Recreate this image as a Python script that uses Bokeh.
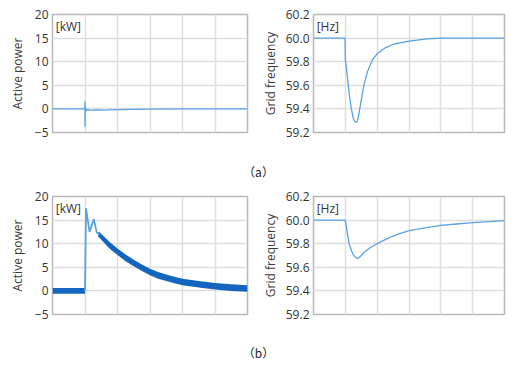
from bokeh.plotting import figure
from bokeh.layouts import column, row
from bokeh.models import FixedTicker, Label, Range1d
from bokeh.embed import file_html
from bokeh.resources import INLINE

# ---------------- data ----------------
# (a) active power [kW]
t_pa = [0.0, 0.99, 1.0, 1.0, 1.01, 1.04, 1.08, 1.15, 1.3, 1.6, 2.0, 2.5, 3.0, 4.0, 6.0]
p_a = [0.0, 0.0, 1.6, -3.8, 0.3, -0.4, -0.1, -0.3, -0.2, -0.25, -0.15, -0.1, -0.05, 0.0, 0.0]

# (a) grid frequency [Hz]
t_fa = [0.0, 0.99, 1.0, 1.04, 1.08, 1.13, 1.19, 1.24, 1.28, 1.31, 1.34, 1.37, 1.40, 1.44, 1.49,
        1.55, 1.60, 1.70, 1.86, 2.01, 2.27, 2.53, 3.01, 3.56, 4.02, 6.0]
f_a = [60.0, 60.0, 59.82, 59.73, 59.63, 59.51, 59.40, 59.33, 59.30, 59.287, 59.285, 59.295, 59.32,
       59.38, 59.46, 59.55, 59.62, 59.72, 59.82, 59.87, 59.92, 59.95, 59.975, 59.993, 60.0, 60.0]

# (b) active power [kW] - transient (thin trace)
t_pb = [0.99, 1.0, 1.03, 1.14, 1.27, 1.36, 1.45]
p_b = [0.0, 0.0, 17.5, 12.5, 15.2, 12.4, 11.8]
# (b) active power - dense ripple band (lower / upper envelope)
t_band_pre = [0.0, 1.0]
lo_pre = [-0.6, -0.6]
hi_pre = [0.6, 0.6]
t_band = [1.40, 1.45, 1.75, 2.0, 2.25, 2.5, 2.75, 3.0, 3.25, 3.5, 3.75, 4.0, 4.5, 5.0, 5.5, 6.0]
mid_band = [12.0, 11.8, 9.7, 8.3, 7.0, 5.9, 4.9, 4.0, 3.3, 2.8, 2.3, 1.9, 1.4, 1.0, 0.7, 0.5]
half_band = [0.4, 0.6, 0.7, 0.7, 0.7, 0.7, 0.7, 0.7, 0.7, 0.7, 0.7, 0.7, 0.7, 0.7, 0.7, 0.7]

# (b) grid frequency [Hz]
t_fb = [0.0, 0.98, 1.01, 1.04, 1.08, 1.12, 1.18, 1.24, 1.30, 1.35, 1.39, 1.44, 1.50, 1.60, 1.80,
        2.0, 2.25, 2.5, 2.75, 3.0, 3.5, 4.0, 4.5, 5.0, 5.5, 6.0]
f_b = [60.0, 60.0, 59.98, 59.93, 59.86, 59.80, 59.75, 59.71, 59.69, 59.678, 59.675, 59.685, 59.70,
       59.73, 59.77, 59.80, 59.835, 59.865, 59.89, 59.91, 59.935, 59.955, 59.967, 59.978, 59.987, 59.995]

x_ticks = [0, 1, 2, 3, 4, 5, 6]
p_ticks = [-5, 0, 5, 10, 15, 20]
f_ticks = [59.2, 59.4, 59.6, 59.8, 60.0, 60.2]
f_labels = {59.2: "59.2", 59.4: "59.4", 59.6: "59.6", 59.8: "59.8", 60.0: "60.0", 60.2: "60.2"}

LINE = "#5aa2e2"
BAND = "#1465bd"
FONT = "Open Sans"


def panel(width, left, right, top, bottom, yr, yticks, ylabel, unit, lab_standoff, ylabels=None):
    p = figure(width=width, height=150, output_backend="svg", toolbar_location=None,
               x_range=Range1d(0, 6), y_range=Range1d(*yr),
               min_border_left=left, min_border_right=right,
               min_border_top=top, min_border_bottom=bottom)
    p.xaxis.visible = False
    p.xaxis.ticker = FixedTicker(ticks=x_ticks)
    p.yaxis.ticker = FixedTicker(ticks=yticks)
    if ylabels:
        p.yaxis.major_label_overrides = ylabels
    p.yaxis.axis_label = ylabel
    p.yaxis.axis_label_text_font = FONT
    p.yaxis.axis_label_text_font_style = "normal"
    p.yaxis.axis_label_text_font_size = "12px"
    p.yaxis.axis_label_text_color = "#3a3a3a"
    p.yaxis.axis_label_standoff = lab_standoff
    p.yaxis.major_label_text_font = FONT
    p.yaxis.major_label_text_font_size = "12px"
    p.yaxis.major_label_text_color = "#333333"
    p.yaxis.major_label_standoff = 4
    p.yaxis.major_tick_line_color = None
    p.yaxis.major_tick_out = 0
    p.yaxis.major_tick_in = 0
    p.yaxis.minor_tick_line_color = None
    p.yaxis.axis_line_color = None
    p.grid.grid_line_color = "#dedede"
    p.grid.grid_line_width = 1.5
    p.outline_line_color = "#b8b8b8"
    p.outline_line_width = 1.5
    p.outline_line_alpha = 1.0
    p.background_fill_color = "white"
    p.border_fill_color = "white"
    lab = Label(x=0.1, y=yr[1] - (yr[1] - yr[0]) * 0.03, text=unit, text_font=FONT,
                text_font_size="12px", text_color="#333333", text_baseline="top")
    p.add_layout(lab)
    return p


def caption(text, height, ypos):
    c = figure(width=510, height=height, output_backend="svg", toolbar_location=None,
               x_range=Range1d(0, 510), y_range=Range1d(0, height),
               min_border=0, min_border_left=0, min_border_right=0,
               min_border_top=0, min_border_bottom=0)
    c.axis.visible = False
    c.grid.visible = False
    c.outline_line_color = None
    c.add_layout(Label(x=258, y=ypos, text=text, text_font="Noto Sans CJK SC",
                       text_font_size="12px", text_color="#222222",
                       text_align="center", text_baseline="middle"))
    return c


p1 = panel(258, 52, 11, 14, 18, (-5, 20), p_ticks, "Active power", "[kW]", 6)
p1.line(t_pa, p_a, line_color=LINE, line_width=1.3)

p2 = panel(252, 52, 6, 14, 18, (59.2, 60.2), f_ticks, "Grid frequency", "[Hz]", 4, f_labels)
p2.line(t_fa, f_a, line_color=LINE, line_width=1.3)

p3 = panel(258, 52, 11, 12, 20, (-5, 20), p_ticks, "Active power", "[kW]", 6)
p3.varea(x=t_band_pre, y1=lo_pre, y2=hi_pre, fill_color=BAND)
lo_b = [m - h for m, h in zip(mid_band, half_band)]
hi_b = [m + h for m, h in zip(mid_band, half_band)]
p3.varea(x=t_band, y1=lo_b, y2=hi_b, fill_color=BAND)
p3.line(t_pb, p_b, line_color=LINE, line_width=1.8)

p4 = panel(252, 52, 6, 12, 20, (59.2, 60.2), f_ticks, "Grid frequency", "[Hz]", 4, f_labels)
p4.line(t_fb, f_b, line_color=LINE, line_width=1.3)

la = caption("（a）", 34, 13)
lb = caption("（b）", 32, 14)

layout = column(row(p1, p2), la, row(p3, p4), lb)

with open("out.html", "w") as f:
    f.write(file_html(layout, INLINE))
